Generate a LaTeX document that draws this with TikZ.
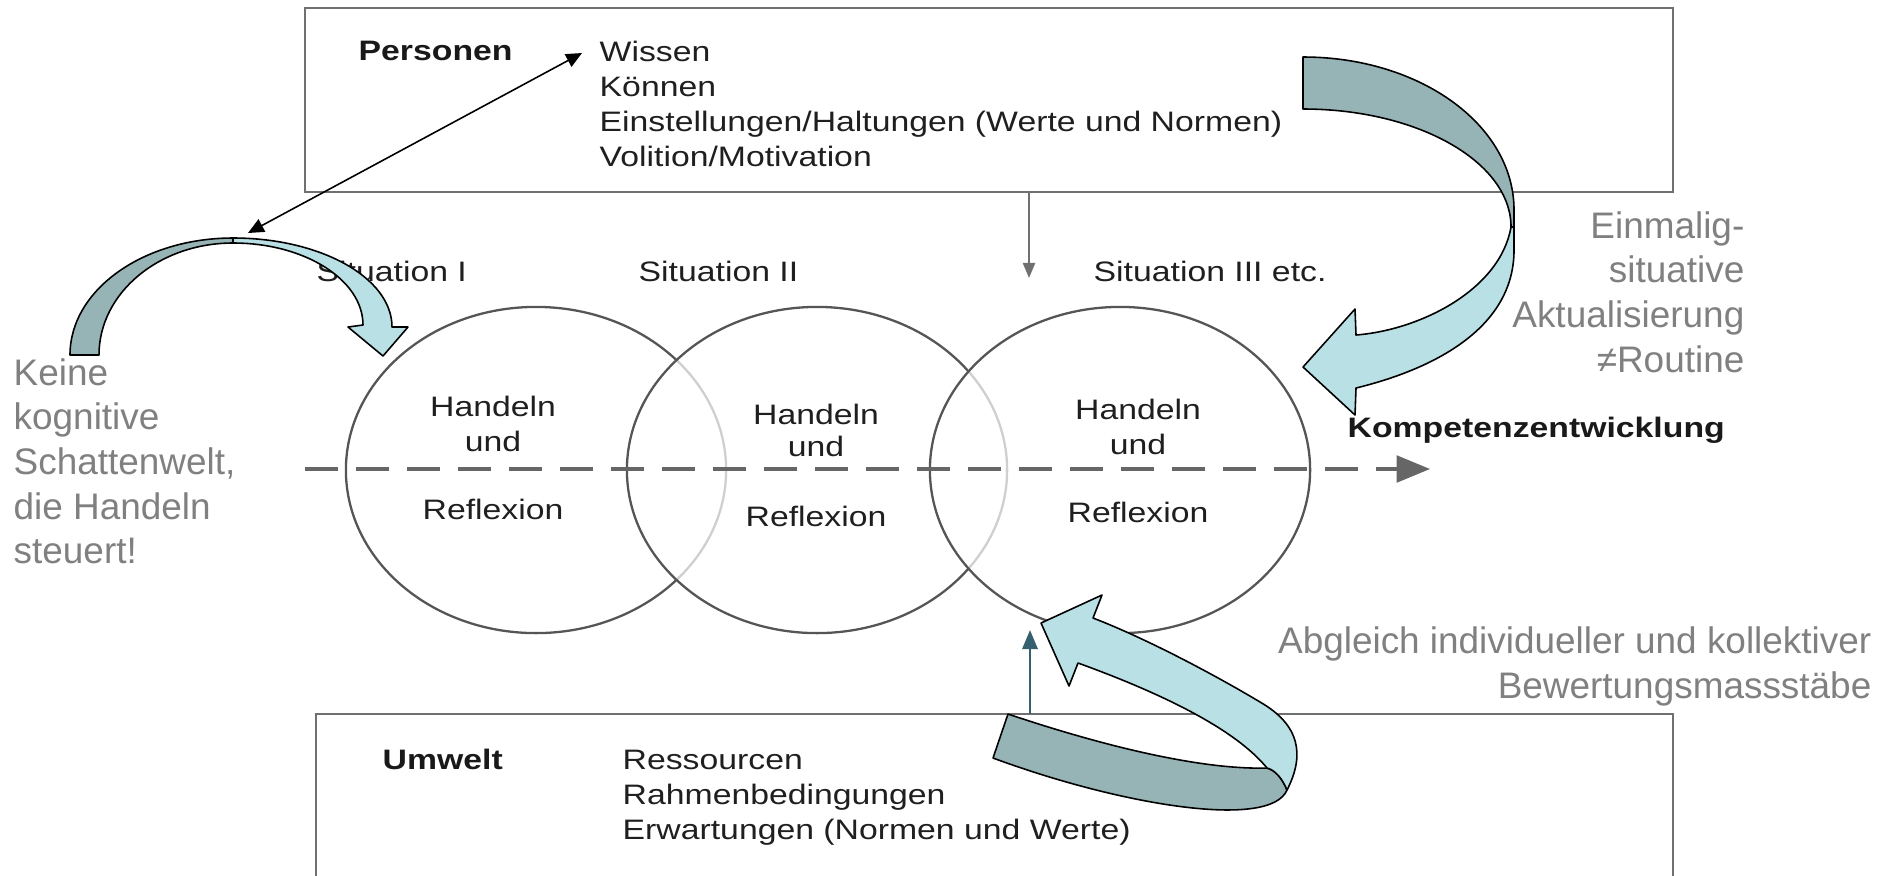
\documentclass[tikz,border=0pt]{standalone}
\usepackage{fontspec}
\setmainfont{Liberation Sans}
\newfontfamily\diagfont[FakeStretch=1.2]{Liberation Sans}
\usepackage{xcolor}
\usetikzlibrary{arrows.meta,shapes.geometric}
\definecolor{ribbondark}{RGB}{150,179,181}
\definecolor{ribbonlight}{RGB}{185,224,228}
\definecolor{boxgray}{RGB}{112,112,112}
\definecolor{circgray}{RGB}{85,85,85}
\definecolor{notegray}{RGB}{128,128,128}
\definecolor{upteal}{RGB}{52,96,112}

\tikzset{
  box/.style={draw=boxgray, line width=0.75pt, inner sep=0pt, outer sep=0pt, anchor=north west},
  sitcirc/.style={draw=circgray, line width=0.65pt, ellipse, inner sep=0pt, minimum width=3.8cm, minimum height=3.26cm},
  diag/.style={font=\diagfont\fontsize{8pt}{9.95pt}\selectfont, text=black!88, inner sep=0pt},
  diagb/.style={font=\diagfont\bfseries\fontsize{8pt}{9.95pt}\selectfont, text=black!90, inner sep=0pt},
  note/.style={font=\fontsize{10.5pt}{12.66pt}\selectfont, text=notegray, inner sep=0pt},
  ribbon/.style={draw=black, line width=0.45pt, line join=round},
  tip/.style={-{Triangle[length=#1, width=0.8*#1]}},
}

\begin{document}
\begin{tikzpicture}[x=0.01cm, y=-0.01cm]
  \path[use as bounding box, clip] (0,0) rectangle (1892,875);

  \node[box, minimum width=13.67cm, minimum height=1.84cm] (pbox) at (305,8) {};
  \node[box, minimum width=13.56cm, minimum height=2cm] (ubox) at (316,714) {};

  \node[diagb, anchor=base west] (personen) at (358,60) {Personen};
  \node[diag, align=left, anchor=north west] (plist) at (599,40) {Wissen\\Können\\Einstellungen/Haltungen (Werte und Normen)\\Volition/Motivation};
  \node[diagb, anchor=base west] (umwelt) at (382,769) {Umwelt};
  \node[diag, align=left, anchor=north west] (ulist) at (622,749) {Ressourcen\\Rahmenbedingungen\\Erwartungen (Normen und Werte)};

  \node[diag, anchor=base west] (sit1) at (316,281) {Situation I};
  \node[diag, anchor=base west] (sit2) at (638,281) {Situation II};
  \node[diag, anchor=base west] (sit3) at (1093,281) {Situation III etc.};

  \node[sitcirc] (c1) at (536,470) {};
  \node[sitcirc, fill=white, fill opacity=0.72] (c2) at (817,470) {};
  \node[sitcirc, fill=white, fill opacity=0.72] (c3) at (1120,470) {};
  \foreach \x/\ya/\yb/\yc [count=\i] in {493/416/451/519, 816/424/456/526, 1138/419/454/522} {
    \node[diag, anchor=base] (hand\i) at (\x,\ya) {Handeln};
    \node[diag, anchor=base] (und\i) at (\x,\yb) {und};
    \node[diag, anchor=base] (refl\i) at (\x,\yc) {Reflexion};
  }

  \coordinate (dstart) at (305,469);
  \coordinate (dend) at (1430,469);
  \draw[circgray!90, line width=0.9pt, dash pattern=on 9.4pt off 5.1pt, tip=9.5pt] (dstart) -- (dend);
  \node[diagb, anchor=base west] (kompetenz) at (1347,437) {Kompetenzentwicklung};

  \coordinate (downtip) at (1029,278);
  \coordinate (uptip) at (1030,630);
  \draw[boxgray, line width=0.6pt, tip=4.3pt] (pbox.south -| downtip) -- (downtip);
  \draw[upteal, line width=0.7pt, tip=5.4pt] (ubox.north -| uptip) -- (uptip);

  \filldraw[ribbon, fill=ribbondark] (1303,57) .. controls (1420,57) and (1514,125) .. (1514,210) -- (1514,227) -- (1511,227) .. controls (1511,162) and (1418,109) .. (1303,109) -- cycle;
  \filldraw[ribbon, fill=ribbonlight] (1511,227) .. controls (1500,290) and (1420,330) .. (1356,335) -- (1355,309) -- (1303,367) -- (1355,415) -- (1356,388) .. controls (1430,370) and (1514,330) .. (1514,250) -- (1514,227) -- cycle;

  \filldraw[ribbon, fill=ribbondark] (70,355) .. controls (70,290) and (143,238) .. (233,238) -- (233,243) .. controls (159,243) and (99,293) .. (99,355) -- cycle;
  \filldraw[ribbon, fill=ribbonlight] (233,238) .. controls (321,238) and (392,278) .. (392,327) -- (408,327) -- (383,356) -- (348,327) -- (363,325) .. controls (363,280) and (305,243) .. (233,243) -- cycle;

  \filldraw[ribbon, fill=ribbondark] (1008,714) .. controls (1100,745) and (1200,770) .. (1267,768) .. controls (1275,770) and (1282,778) .. (1287,790) .. controls (1270,830) and (1120,805) .. (993,758) -- cycle;
  \filldraw[ribbon, fill=ribbonlight] (1287,790) .. controls (1305,755) and (1300,725) .. (1260,702) .. controls (1220,678) and (1150,640) .. (1093,618) -- (1102,595) -- (1041,623) -- (1069,686) -- (1078,663) .. controls (1180,700) and (1240,735) .. (1267,768) .. controls (1275,770) and (1282,778) .. (1287,790) -- cycle;

  \coordinate (apex) at (248,233);
  \coordinate (wtip) at (582,53);
  \draw[line width=0.45pt, {Triangle[length=4.5pt,width=4pt]}-{Triangle[length=4.5pt,width=4pt]}] (apex) -- (wtip);

  \node[note, align=left, anchor=north west] (schatten) at (13,358) {Keine\\kognitive\\Schattenwelt,\\die Handeln\\steuert!};
  \node[note, align=right, anchor=north east] (einmalig) at (1745,211) {Einmalig-\\situative\\Aktualisierung\\≠Routine};
  \node[note, align=right, anchor=north east] (abgleich) at (1872,626) {Abgleich individueller und kollektiver\\Bewertungsmassstäbe};
\end{tikzpicture}
\end{document}
